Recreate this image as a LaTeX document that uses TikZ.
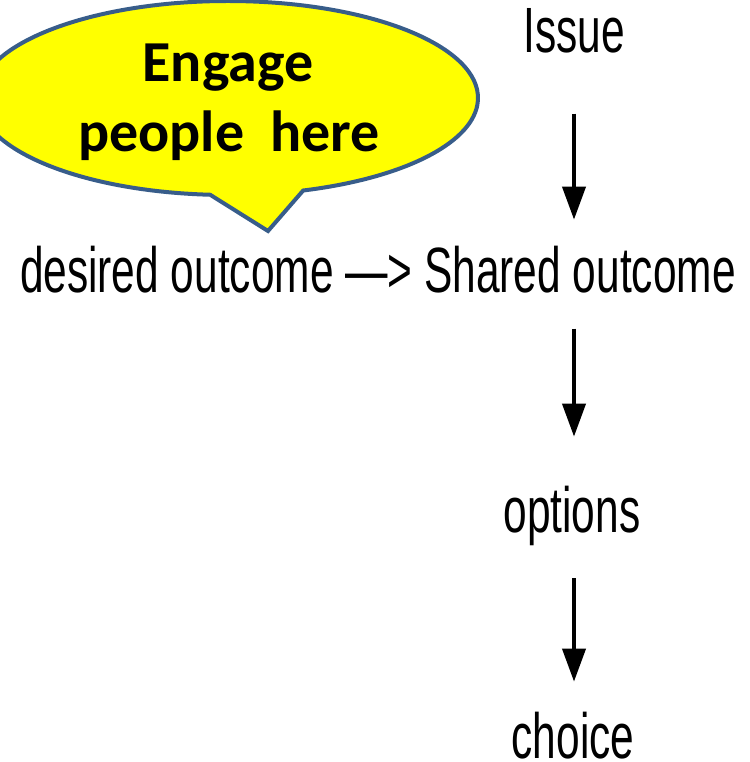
\documentclass[tikz,border=0pt]{standalone}
\usepackage{fontspec}
\usetikzlibrary{arrows.meta}
\newfontfamily\flowfont[FakeStretch=0.663]{Liberation Sans}
\newfontfamily\calloutfont{Carlito}
\definecolor{bubbleedge}{HTML}{385D8A}
\definecolor{bubblefill}{HTML}{FFFF00}
\begin{document}
\begin{tikzpicture}[x=1pt,y=-1pt,
  steplabel/.style={inner sep=0pt,outer sep=0pt,font=\flowfont\fontsize{64}{70}\selectfont},
  callouttext/.style={inner sep=0pt,outer sep=0pt,font=\calloutfont\bfseries\fontsize{58}{70}\selectfont},
  flow/.style={line width=4pt,-{Triangle[width=23pt,length=33pt]}},
  bubble/.style={draw=bubbleedge,fill=bubblefill,line width=4pt,line join=miter}]
\useasboundingbox (0,0) rectangle (749,762);

% speech bubble with its tail pointing down to the desired outcome
\draw[bubble] (228,98) ++(94.1:250 and 97)
  arc[start angle=94.1,end angle=432.5,x radius=250,y radius=97]
  -- (268,231) -- cycle;
\node[callouttext,anchor=base] (engage) at (228,82) {Engage};
\node[callouttext,anchor=base] (here) at (229,152) {people\ \ here};

% process steps
\node[steplabel,anchor=base] (issue) at (574,53) {Issue};
\node[steplabel,anchor=base west] (desired) at (20,292) {desired outcome};
\node[steplabel,anchor=base west] (link) at ([xshift=11.7pt]desired.base east) {—>};
\node[steplabel,anchor=base west] (shared) at ([xshift=11.7pt]link.base east) {Shared outcome};
\node[steplabel,anchor=base] (options) at (572,532) {options};
\node[steplabel,anchor=base] (choice) at (573,758) {choice};

% connectors between the steps
\draw[flow] ([yshift=-60pt]issue.south) -- ([yshift=26pt]issue.south |- shared.north);
\draw[flow] ([yshift=-36pt]issue.south |- shared.south) -- ([yshift=49pt]issue.south |- options.north);
\draw[flow] ([yshift=-33pt]issue.south |- options.south) -- ([yshift=30pt]issue.south |- choice.north);
\end{tikzpicture}
\end{document}
